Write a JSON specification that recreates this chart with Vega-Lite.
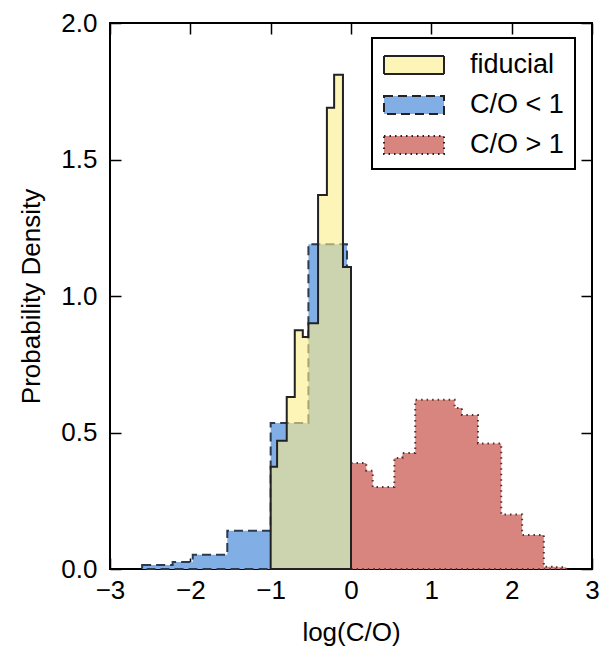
{
  "$schema": "https://vega.github.io/schema/vega-lite/v6.json",
  "width": 482,
  "height": 546,
  "autosize": {"type": "none"},
  "padding": {"left": 110, "top": 23, "right": 12, "bottom": 87},
  "config": {
    "view": {"stroke": "black", "strokeWidth": 2},
    "font": "Liberation Sans",
    "axis": {
      "grid": false, "domain": false, "tickColor": "black", "tickWidth": 1.5, "tickSize": -11,
      "labelFlush": false, "labelOverlap": false,
      "labelFontSize": 26, "labelColor": "black", "titleFontSize": 26, "titleFontWeight": "normal",
      "titleColor": "black", "labelFont": "Liberation Sans", "titleFont": "Liberation Sans"
    },
    "legend": {
      "orient": "none", "legendX": 262, "legendY": 15, "title": null,
      "strokeColor": "black", "strokeWidth": 2, "fillColor": "white", "cornerRadius": 0,
      "padding": 11, "symbolType": "M-1,-0.6H3V0.6H-1Z", "symbolSize": 900,
      "symbolStrokeColor": "#222", "symbolStrokeWidth": 2, "labelFontSize": 27,
      "labelColor": "black", "labelFont": "Liberation Sans", "labelOffset": 55, "rowPadding": 11
    }
  },
  "datasets": {
    "blue": [
      {"series": "C/O < 1", "x": -2.6, "y": 0.015},
      {"series": "C/O < 1", "x": -2.22, "y": 0.026},
      {"series": "C/O < 1", "x": -1.97, "y": 0.052},
      {"series": "C/O < 1", "x": -1.54, "y": 0.14},
      {"series": "C/O < 1", "x": -1.0, "y": 0.535},
      {"series": "C/O < 1", "x": -0.53, "y": 1.19},
      {"series": "C/O < 1", "x": -0.05, "y": 1.106},
      {"series": "C/O < 1", "x": 0.0, "y": 0}
    ],
    "red": [
      {"series": "C/O > 1", "x": 0.0, "y": 0.388},
      {"series": "C/O > 1", "x": 0.19, "y": 0.36},
      {"series": "C/O > 1", "x": 0.27, "y": 0.30},
      {"series": "C/O > 1", "x": 0.54, "y": 0.407},
      {"series": "C/O > 1", "x": 0.64, "y": 0.425},
      {"series": "C/O > 1", "x": 0.8, "y": 0.62},
      {"series": "C/O > 1", "x": 1.29, "y": 0.59},
      {"series": "C/O > 1", "x": 1.38, "y": 0.564},
      {"series": "C/O > 1", "x": 1.58, "y": 0.46},
      {"series": "C/O > 1", "x": 1.87, "y": 0.2},
      {"series": "C/O > 1", "x": 2.13, "y": 0.125},
      {"series": "C/O > 1", "x": 2.4, "y": 0.008},
      {"series": "C/O > 1", "x": 2.55, "y": 0.006},
      {"series": "C/O > 1", "x": 2.68, "y": 0}
    ],
    "fid": [
      {"series": "fiducial", "x": -1.0, "y": 0.375},
      {"series": "fiducial", "x": -0.92, "y": 0.47},
      {"series": "fiducial", "x": -0.8, "y": 0.63},
      {"series": "fiducial", "x": -0.7, "y": 0.875},
      {"series": "fiducial", "x": -0.6, "y": 0.85},
      {"series": "fiducial", "x": -0.53, "y": 0.9},
      {"series": "fiducial", "x": -0.41, "y": 1.37},
      {"series": "fiducial", "x": -0.3, "y": 1.69},
      {"series": "fiducial", "x": -0.21, "y": 1.81},
      {"series": "fiducial", "x": -0.1, "y": 1.106},
      {"series": "fiducial", "x": 0.0, "y": 0}
    ]
  },
  "layer": [
    {
      "data": {"name": "blue"},
      "mark": {"type": "area", "interpolate": "step-after", "stroke": "#2b3a4f", "strokeWidth": 2, "strokeDash": [9, 5]},
      "encoding": {
        "x": {"field": "x", "type": "quantitative", "scale": {"domain": [-3, 3], "nice": false},
              "axis": {"orient": "bottom", "title": "log(C/O)", "values": [-3, -2, -1, 0, 1, 2, 3], "format": "d", "labelPadding": 19, "titlePadding": 16}},
        "y": {"field": "y", "type": "quantitative", "scale": {"domain": [0, 2], "nice": false},
              "axis": {"orient": "left", "title": "Probability Density", "values": [0, 0.5, 1, 1.5, 2], "format": ".1f", "labelPadding": 24, "titlePadding": 16}},
        "fill": {"field": "series", "type": "nominal",
                 "scale": {"domain": ["fiducial", "C/O < 1", "C/O > 1"], "range": ["rgba(252,237,137,0.6)", "#82aee6", "#d9857f"]},
                 "legend": {"symbolStrokeColor": "#222", "encode": {"symbols": {"update": {"strokeDash": {"signal": "datum.value === 'C/O < 1' ? [9,5] : datum.value === 'C/O > 1' ? [1.5,4] : [1,0]"}}}}}}
      }
    },
    {
      "data": {"name": "red"},
      "mark": {"type": "area", "interpolate": "step-after", "stroke": "#5b2b2b", "strokeWidth": 2, "strokeDash": [1.5, 4]},
      "encoding": {
        "x": {"field": "x", "type": "quantitative", "axis": {"orient": "top", "title": null, "labels": false, "values": [-3, -2, -1, 0, 1, 2, 3]}},
        "y": {"field": "y", "type": "quantitative", "axis": {"orient": "right", "title": null, "labels": false, "values": [0, 0.5, 1, 1.5, 2]}},
        "fill": {"field": "series", "type": "nominal"}
      }
    },
    {
      "data": {"name": "fid"},
      "mark": {"type": "area", "interpolate": "step-after", "stroke": "#222", "strokeWidth": 2},
      "encoding": {
        "x": {"field": "x", "type": "quantitative", "axis": null},
        "y": {"field": "y", "type": "quantitative", "axis": null},
        "fill": {"field": "series", "type": "nominal"}
      }
    }
  ]
}
